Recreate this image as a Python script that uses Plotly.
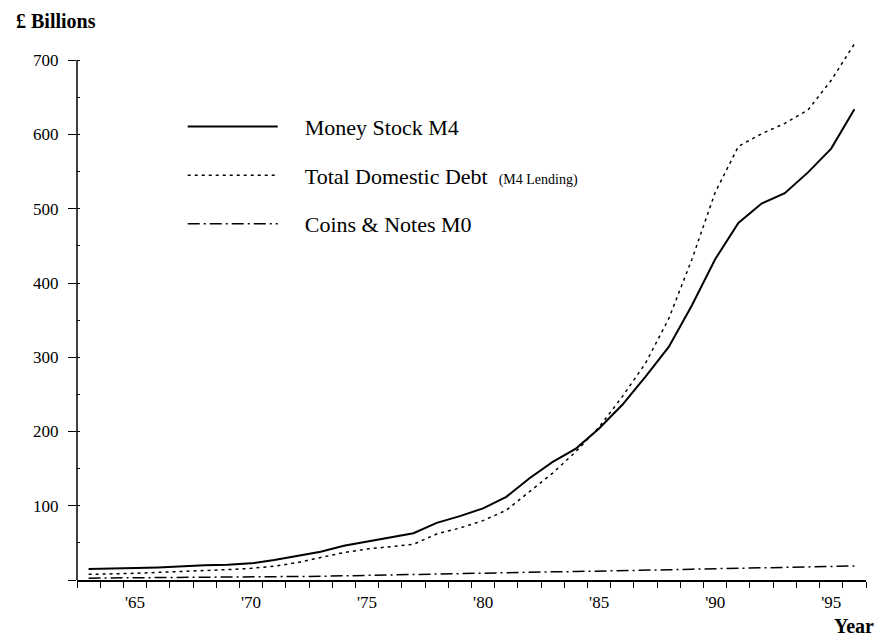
import plotly.graph_objects as go

years = list(range(1963, 1997))
money_stock_m4 = [14.8, 15, 16, 17, 18.8, 19.7, 20.6, 22.4, 27, 32, 38, 46, 51.5, 57, 63, 77, 86,
                  96.5, 112, 137, 159, 177, 204, 236, 274, 314, 370, 432, 481, 507, 521, 549, 581, 634]
total_domestic_debt = [7.6, 8, 9, 10.3, 11.2, 12.6, 14, 15.7, 18.5, 23.5, 30.5, 37, 41.7, 45, 48, 62, 70,
                       80, 94, 119, 144, 173, 206, 247, 292, 352, 432, 522, 584, 601, 615, 633, 673, 722]
coins_notes_m0 = [2.5, 2.7, 2.9, 3.1, 3.3, 3.5, 3.7, 3.9, 4.2, 4.6, 5.0, 5.6, 6.3, 7.0, 7.7, 8.5, 9.2,
                  9.8, 10.2, 10.6, 11.0, 11.4, 11.8, 12.4, 13.0, 13.8, 14.6, 15.4, 16.0, 16.5, 17.0, 17.6, 18.3, 19.0]

x_tick_vals = [1965, 1970, 1975, 1980, 1985, 1990, 1995]
x_tick_text = ["'65", "'70", "'75", "'80", "'85", "'90", "'95"]
y_tick_vals = [0, 100, 200, 300, 400, 500, 600, 700]
y_tick_text = ["", "100", "200", "300", "400", "500", "600", "700"]

FONT = "Liberation Serif"
PAD = "&nbsp;" * 4

fig = go.Figure()
fig.add_trace(go.Scatter(x=years, y=money_stock_m4, mode="lines", name=PAD + "Money Stock M4",
                         legendgroup="a", line=dict(color="black", width=2)))
fig.add_trace(go.Scatter(x=years, y=total_domestic_debt, mode="lines",
                         name=PAD + 'Total Domestic Debt  <span style="font-size:14px">(M4 Lending)</span>',
                         legendgroup="b", line=dict(color="black", width=1.5, dash="3px,4px")))
fig.add_trace(go.Scatter(x=years, y=coins_notes_m0, mode="lines", name=PAD + "Coins &amp; Notes M0",
                         legendgroup="c", line=dict(color="black", width=1.5, dash="12px,4px,2px,4px")))

fig.update_layout(
    width=879, height=630,
    margin=dict(l=69, r=21, t=30, b=58),
    paper_bgcolor="white", plot_bgcolor="white",
    font=dict(family=FONT, color="black", size=16),
    showlegend=True,
    legend=dict(x=0.134, y=0.875, xanchor="left", yanchor="top",
                font=dict(family=FONT, size=22, color="black"),
                itemwidth=90,
                tracegroupgap=17, bgcolor="rgba(0,0,0,0)"),
    xaxis=dict(range=[1962.5, 1996.5], showgrid=False, zeroline=False,
               showline=True, linecolor="black", linewidth=1.5,
               tickmode="array", tickvals=x_tick_vals, ticktext=x_tick_text,
               ticks="", ticklabelstandoff=6,
               tickfont=dict(family=FONT, size=17, color="black"),
               minor=dict(tickmode="linear", tick0=1962.5, dtick=1, ticks="outside",
                          ticklen=6, tickcolor="black", tickwidth=1, showgrid=False)),
    yaxis=dict(range=[0, 730], showgrid=False, zeroline=False, showline=False,
               tickmode="array", tickvals=y_tick_vals, ticktext=y_tick_text,
               ticks="outside", ticklen=8, tickcolor="black", tickwidth=1,
               ticklabelstandoff=6,
               tickfont=dict(family=FONT, size=17, color="black"),
               minor=dict(tickmode="linear", tick0=0, dtick=50, ticks="inside",
                          ticklen=3, tickcolor="black", showgrid=False)),
    shapes=[dict(type="line", xref="x domain", yref="y", x0=0, x1=0, y0=0, y1=700,
                 line=dict(color="black", width=1.5))],
    annotations=[
        dict(text="<b>£ Billions</b>", xref="paper", yref="paper", x=-0.08, y=1.031,
             xanchor="left", yanchor="middle", showarrow=False,
             font=dict(family=FONT, size=20, color="black")),
        dict(text="<b>Year</b>", xref="paper", yref="paper", x=1.013, y=-0.085,
             xanchor="right", yanchor="middle", showarrow=False,
             font=dict(family=FONT, size=20, color="black")),
    ],
)

fig.write_html("out.html")
